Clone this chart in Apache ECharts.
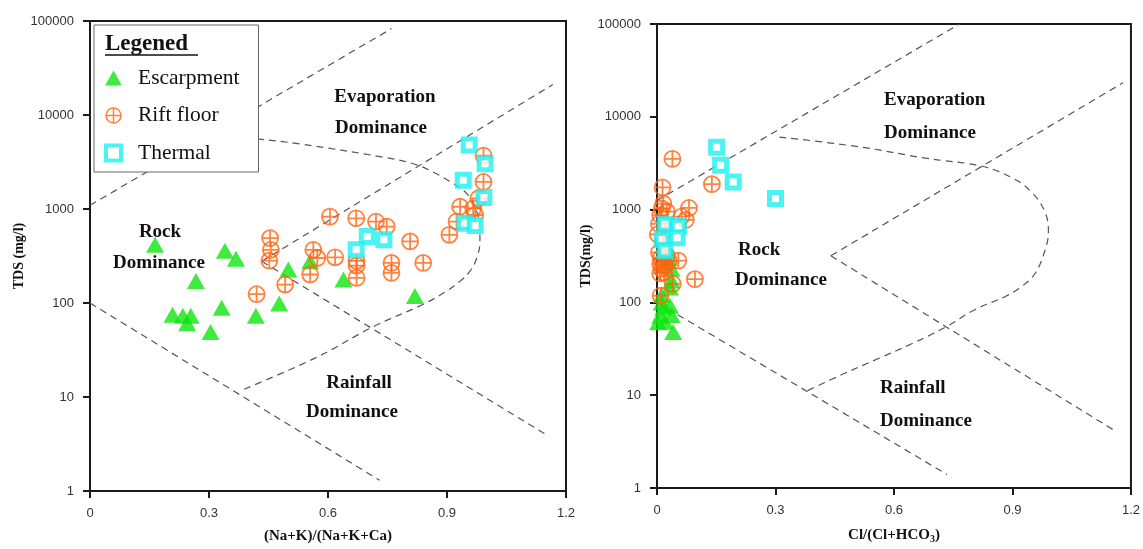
<!DOCTYPE html>
<html><head><meta charset="utf-8">
<script src="https://cdn.jsdelivr.net/npm/echarts@6/dist/echarts.min.js"></script>
<style>html,body{margin:0;padding:0;background:#fff}#c{width:1143px;height:549px}</style>
</head><body><div id="c"></div>
<script>
// ---------- tick labels ----------
const xTicks = [0, 0.3, 0.6, 0.9, 1.2];
const yTicks = [1, 10, 100, 1000, 10000, 100000];
const groupNames = ['Escarpment', 'Rift floor', 'Thermal'];

// ---------- left chart: (Na+K)/(Na+K+Ca) vs TDS ----------
const naEscarpment = [[0.164,416],[0.340,360],[0.368,296],[0.267,171],[0.500,227],[0.555,278],[0.639,178],[0.819,119],[0.332,89],[0.477,99],[0.418,73],[0.208,75],[0.234,73],[0.254,73],[0.245,61],[0.304,49]];
const naRiftFloor = [[0.454,490],[0.456,368],[0.452,282],[0.420,124],[0.492,157],[0.605,830],[0.671,796],[0.721,735],[0.748,650],[0.563,368],[0.573,301],[0.618,306],[0.555,201],[0.672,280],[0.672,250],[0.672,185],[0.760,267],[0.760,209],[0.807,452],[0.840,267],[0.906,531],[0.924,735],[0.933,1057],[0.966,1014],[0.971,863],[0.979,1294],[0.992,1940],[0.992,3700]];
const naThermal = [[0.956,4800],[0.996,3030],[0.941,2020],[0.993,1325],[0.945,705],[0.971,667],[0.699,510],[0.741,470],[0.671,368]];
const naOuterUpper = [[0,1095],[0.76,83000]];
const naOuterLower = [[0,100],[0.73,1.3]];
const naInnerUpper = [[0.433,278],[1.167,21100]];
const naInnerLower = [[0.433,278],[1.149,4.0]];
const naEnvelope = [[0.30,6050],[0.422,5560],[0.529,4920],[0.739,3560],[0.815,3030],[0.865,2470],[0.916,1860],[0.954,1400],[0.975,937],[0.983,624],[0.983,452],[0.975,301],[0.958,218],[0.933,171],[0.899,134],[0.840,97],[0.714,56],[0.572,26.5],[0.378,11.6]];

// ---------- right chart: Cl/(Cl+HCO3) vs TDS ----------
const clEscarpment = [[0.041,48],[0.003,61],[0.020,62],[0.008,72],[0.037,73],[0.016,88],[0.033,92],[0.012,100],[0.012,120],[0.033,145],[0.037,172],[0.037,230],[0.028,280],[0.030,300],[0.025,360],[0.020,415]];
const clRiftFloor = [[0.039,3520],[0.014,1733],[0.139,1880],[0.016,1160],[0.012,1028],[0.081,1042],[0.062,838],[0.073,774],[0.008,872],[0.002,540],[0.054,282],[0.008,205],[0.040,158],[0.096,178],[0.009,118],[0.005,345],[0.010,300],[0.015,270],[0.020,250],[0.008,260],[0.012,230],[0.018,210],[0.025,320],[0.015,450],[0.020,600],[0.025,950],[0.005,700],[0.030,280]];
const clThermal = [[0.151,4710],[0.161,3000],[0.193,1988],[0.300,1318],[0.020,697],[0.054,658],[0.051,497],[0.013,477],[0.020,360]];
const clOuterUpper = [[0,1250],[0.766,100000]];
const clOuterLower = [[0,100],[0.734,1.4]];
const clInnerUpper = [[0.440,318],[1.18,23300]];
const clInnerLower = [[0.440,318],[1.162,4.07]];
const clEnvelope = [[0.310,6050],[0.512,4750],[0.680,3580],[0.823,2930],[0.898,2210],[0.949,1535],[0.982,946],[0.991,583],[0.982,360],[0.957,205],[0.923,148],[0.882,116],[0.806,84],[0.730,54],[0.646,36],[0.562,25],[0.470,16.8],[0.381,11.2]];

// ---------- styling ----------
const AXIS = '#1a1a1a';
const GREEN = '#10E610';
const ORANGE = '#FF6410';
const CYAN = '#1EF0F0';
const DASH = '#555';
const SERIF = '"Liberation Serif", "Times New Roman", serif';
const SANS = '"Liberation Sans", Arial, sans-serif';
const circCross = 'path://M10,0 A10,10 0 1,1 -10,0 A10,10 0 1,1 10,0 Z M-10,0 L10,0 M0,-10 L0,10';
const triPath = 'path://M0,0 L9,16 L-9,16 Z';
const sqPath = 'path://M0,0 L10,0 L10,10 L0,10 Z';

const symbolStyles = {
  'Escarpment': { symbol: 'triangle', symbolSize: [18, 16], itemStyle: { color: GREEN } },
  'Rift floor': { symbol: circCross, symbolSize: 16, itemStyle: { color: 'rgba(0,0,0,0)', borderColor: ORANGE, borderWidth: 1.8 } },
  'Thermal': { symbol: 'rect', symbolSize: 12, itemStyle: { color: '#fff', borderColor: CYAN, borderWidth: 5 } }
};

function scatter(name, data, gi) {
  const s = symbolStyles[name];
  return Object.assign({ type: 'scatter', name, data, xAxisIndex: gi, yAxisIndex: gi, z: 3 }, s);
}
function dashLine(data, gi, smooth) {
  return { type: 'line', data, xAxisIndex: gi, yAxisIndex: gi, showSymbol: false, symbol: 'none', silent: true,
    smooth: smooth || false, z: 2, lineStyle: { color: DASH, width: 1.2, type: [7, 5] } };
}
function xAxisCfg(gi, name, nameGap, rich) {
  return {
    type: 'value', gridIndex: gi, min: xTicks[0], max: xTicks[xTicks.length - 1], interval: xTicks[1] - xTicks[0],
    name, nameLocation: 'middle', nameGap,
    nameTextStyle: { fontFamily: SERIF, fontWeight: 'bold', fontSize: 15, color: '#111', rich },
    axisLine: { show: true, lineStyle: { color: AXIS, width: 2 } },
    axisTick: { show: true, inside: false, length: 7, lineStyle: { color: AXIS, width: 2 } },
    axisLabel: { fontFamily: SANS, fontSize: 13, color: '#333', margin: 16, formatter: v => String(+v.toFixed(1)) },
    splitLine: { show: false }
  };
}
function yAxisCfg(gi, name, nameGap) {
  return {
    type: 'log', logBase: 10, gridIndex: gi, min: yTicks[0], max: yTicks[yTicks.length - 1],
    name, nameLocation: 'middle', nameGap, nameRotate: 90,
    nameTextStyle: { fontFamily: SERIF, fontWeight: 'bold', fontSize: 14, color: '#111' },
    axisLine: { show: true, lineStyle: { color: AXIS, width: 2 } },
    axisTick: { show: true, inside: false, length: 7, lineStyle: { color: AXIS, width: 2 } },
    axisLabel: { fontFamily: SANS, fontSize: 13, color: '#333', margin: 16, formatter: v => String(Math.round(v)) },
    splitLine: { show: false }, minorTick: { show: false }
  };
}
function label(text, x, y, align) {
  return { type: 'text', x, y, z: 50, silent: true,
    style: { text, font: 'bold 19px ' + SERIF, fill: '#111', align: align || 'center', verticalAlign: 'middle',
      textAlign: align || 'center', textVerticalAlign: 'middle' } };
}

const chart = echarts.init(document.getElementById('c'));
chart.setOption({
  animation: false,
  backgroundColor: '#fff',
  grid: [
    { left: 90, top: 21, width: 476, height: 474, show: true, borderColor: AXIS, borderWidth: 2, backgroundColor: 'transparent' },
    { left: 657, top: 24, width: 476, height: 476, show: true, borderColor: AXIS, borderWidth: 2, backgroundColor: 'transparent' }
  ],
  xAxis: [
    xAxisCfg(0, '(Na+K)/(Na+K+Ca)', 38),
    xAxisCfg(1, '{a|Cl/(Cl+HCO}{s|3}{a|)}', 38, {
      a: { fontFamily: SERIF, fontWeight: 'bold', fontSize: 15, color: '#111' },
      s: { fontFamily: SERIF, fontWeight: 'bold', fontSize: 10, color: '#111', verticalAlign: 'bottom', padding: [8, 0, 0, 0] }
    })
  ],
  yAxis: [ yAxisCfg(0, 'TDS (mg/l)', 39), yAxisCfg(1, 'TDS(mg/l)', 39) ],
  legend: {
    left: 94, top: 25, orient: 'vertical',
    padding: [42, 19, 8, 10], itemGap: 15.5, itemWidth: 17, itemHeight: 15,
    symbolKeepAspect: true,
    backgroundColor: '#fff', borderColor: '#666', borderWidth: 1, borderRadius: 0,
    textStyle: { fontFamily: SERIF, fontSize: 21.5, color: '#111', lineHeight: 22, padding: [0, 0, 0, 11] },
    selectedMode: false,
    data: [
      { name: 'Escarpment', icon: triPath, itemStyle: { color: GREEN } },
      { name: 'Rift floor', icon: circCross, itemStyle: { color: 'rgba(0,0,0,0)', borderColor: ORANGE, borderWidth: 1.5 } },
      { name: 'Thermal', icon: sqPath, itemStyle: { color: '#fff', borderColor: CYAN, borderWidth: 4 } }
    ]
  },
  graphic: [
    { type: 'text', x: 105, y: 44, z: 100, silent: true,
      style: { text: 'Legened', font: 'bold 23px ' + SERIF, fill: '#111', align: 'left', verticalAlign: 'middle', textAlign: 'left', textVerticalAlign: 'middle' } },
    { type: 'line', z: 100, silent: true, shape: { x1: 105, y1: 55, x2: 198, y2: 55 }, style: { stroke: '#111', lineWidth: 1.5 } },
    label('Evaporation', 385, 97), label('Dominance', 381, 128),
    label('Rock', 160, 232), label('Dominance', 159, 263),
    label('Rainfall', 359, 383), label('Dominance', 352, 412),
    label('Evaporation', 884, 100, 'left'), label('Dominance', 884, 133, 'left'),
    label('Rock', 738, 250, 'left'), label('Dominance', 735, 280, 'left'),
    label('Rainfall', 880, 388, 'left'), label('Dominance', 880, 421, 'left')
  ],
  series: [
    dashLine(naOuterUpper, 0), dashLine(naOuterLower, 0), dashLine(naInnerUpper, 0), dashLine(naInnerLower, 0), dashLine(naEnvelope, 0, 0.4),
    dashLine(clOuterUpper, 1), dashLine(clOuterLower, 1), dashLine(clInnerUpper, 1), dashLine(clInnerLower, 1), dashLine(clEnvelope, 1, 0.4),
    scatter(groupNames[0], naEscarpment, 0), scatter(groupNames[1], naRiftFloor, 0), scatter(groupNames[2], naThermal, 0),
    scatter(groupNames[0], clEscarpment, 1), scatter(groupNames[1], clRiftFloor, 1), scatter(groupNames[2], clThermal, 1)
  ]
});
</script>
</body></html>
